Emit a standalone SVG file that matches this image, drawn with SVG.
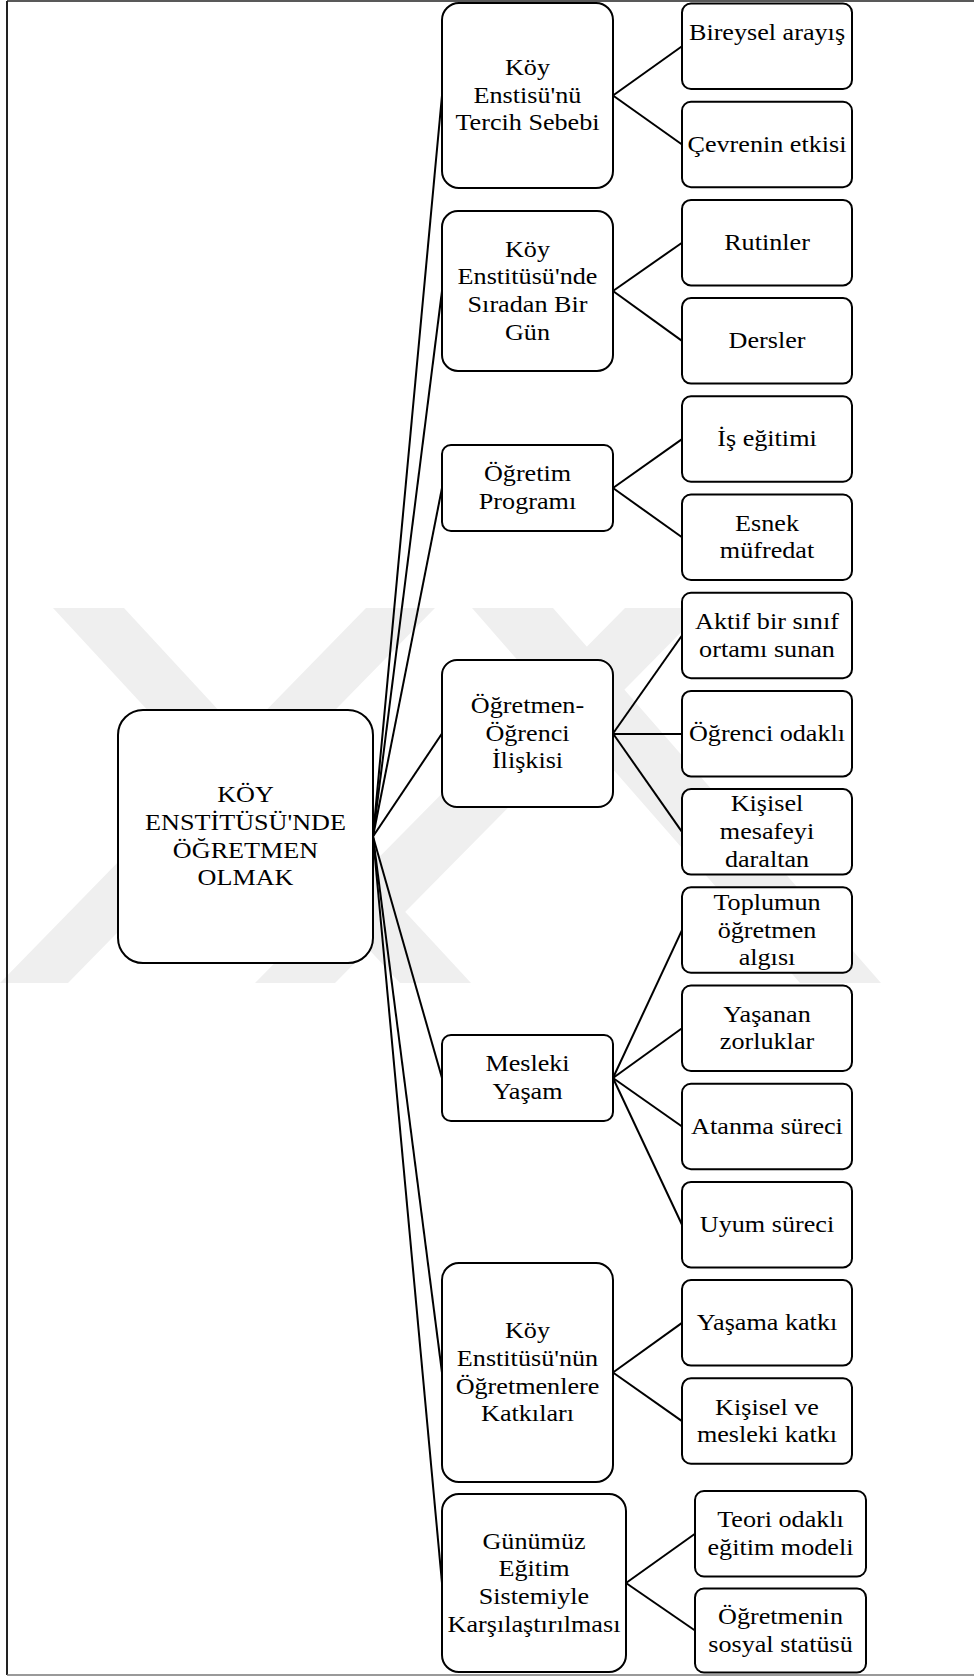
<svg xmlns="http://www.w3.org/2000/svg" width="974" height="1676" viewBox="0 0 974 1676">
<style>
.box{fill:#fff;stroke:#000;stroke-width:2}
.ln{stroke:#000;stroke-width:2;fill:none}
.t{font-family:'Liberation Serif','Times New Roman',serif;font-size:24px;fill:#000;text-anchor:middle}
.frame{stroke:#222;fill:none}
.wm{fill:#efefef;stroke:none}
</style>
<rect x="0" y="0" width="974" height="1676" fill="#fff"/>
<g id="watermark">
<polygon class="wm" points="53,608 124,608 471,983 400,983"/>
<polygon class="wm" points="366,608 435,608 68,983 0,983"/>
<polygon class="wm" points="472,608 553,608 881,983 800,983"/>
<polygon class="wm" points="625,608 705,608 335,983 255,983"/>
</g>
<g id="frame">
<line class="frame" x1="7" y1="1" x2="7" y2="1675" stroke-width="2"/>
<line class="frame" x1="7" y1="1" x2="974" y2="1" stroke-width="1.5"/>
<line x1="7" y1="1675" x2="974" y2="1675" stroke="#777" stroke-width="1.5"/>
</g>
<g id="connectors">
<line class="ln" x1="373" y1="836.5" x2="442" y2="95.5"/>
<line class="ln" x1="373" y1="836.5" x2="442" y2="291"/>
<line class="ln" x1="373" y1="836.5" x2="442" y2="488"/>
<line class="ln" x1="373" y1="836.5" x2="442" y2="733.5"/>
<line class="ln" x1="373" y1="836.5" x2="442" y2="1078"/>
<line class="ln" x1="373" y1="836.5" x2="442" y2="1372.5"/>
<line class="ln" x1="373" y1="836.5" x2="442" y2="1583"/>
<line class="ln" x1="613" y1="95.5" x2="682" y2="46.3"/>
<line class="ln" x1="613" y1="95.5" x2="682" y2="144.5"/>
<line class="ln" x1="613" y1="291" x2="682" y2="242.7"/>
<line class="ln" x1="613" y1="291" x2="682" y2="340.9"/>
<line class="ln" x1="613" y1="488" x2="682" y2="439.1"/>
<line class="ln" x1="613" y1="488" x2="682" y2="537.3"/>
<line class="ln" x1="613" y1="733.5" x2="682" y2="635.5"/>
<line class="ln" x1="613" y1="734" x2="682" y2="734"/>
<line class="ln" x1="613" y1="733.5" x2="682" y2="831.9"/>
<line class="ln" x1="613" y1="1078" x2="682" y2="930.1"/>
<line class="ln" x1="613" y1="1078" x2="682" y2="1028.3"/>
<line class="ln" x1="613" y1="1078" x2="682" y2="1126.5"/>
<line class="ln" x1="613" y1="1078" x2="682" y2="1224.7"/>
<line class="ln" x1="613" y1="1372.5" x2="682" y2="1322.9"/>
<line class="ln" x1="613" y1="1372.5" x2="682" y2="1421.1"/>
<line class="ln" x1="626" y1="1583" x2="695" y2="1533.8"/>
<line class="ln" x1="626" y1="1583" x2="695" y2="1630.5"/>
</g>
<g id="root">
<rect class="box" x="118" y="710" width="255" height="253" rx="25"/>
<text class="t" font-family="Liberation Serif" transform="matrix(1.09 0 0 1 245.5 0)"><tspan x="0" y="802.4">KÖY</tspan><tspan x="0" y="830">ENSTİTÜSÜ'NDE</tspan><tspan x="0" y="857.6">ÖĞRETMEN</tspan><tspan x="0" y="885.2">OLMAK</tspan></text>
</g>
<g id="l1-tercih">
<rect class="box" x="442" y="3" width="171" height="185" rx="17"/>
<text class="t" font-family="Liberation Serif" transform="matrix(1.09 0 0 1 527.5 0)"><tspan x="0" y="75.2">Köy</tspan><tspan x="0" y="102.8">Enstisü'nü</tspan><tspan x="0" y="130.4">Tercih Sebebi</tspan></text>
</g>
<g id="l1-gun">
<rect class="box" x="442" y="211" width="171" height="160" rx="16"/>
<text class="t" font-family="Liberation Serif" transform="matrix(1.09 0 0 1 527.5 0)"><tspan x="0" y="256.9">Köy</tspan><tspan x="0" y="284.5">Enstitüsü'nde</tspan><tspan x="0" y="312.1">Sıradan Bir</tspan><tspan x="0" y="339.7">Gün</tspan></text>
</g>
<g id="l1-program">
<rect class="box" x="442" y="445" width="171" height="86" rx="9"/>
<text class="t" font-family="Liberation Serif" transform="matrix(1.09 0 0 1 527.5 0)"><tspan x="0" y="481.5">Öğretim</tspan><tspan x="0" y="509.1">Programı</tspan></text>
</g>
<g id="l1-iliski">
<rect class="box" x="442" y="660" width="171" height="147" rx="15"/>
<text class="t" font-family="Liberation Serif" transform="matrix(1.09 0 0 1 527.5 0)"><tspan x="0" y="713.2">Öğretmen-</tspan><tspan x="0" y="740.8">Öğrenci</tspan><tspan x="0" y="768.4">İlişkisi</tspan></text>
</g>
<g id="l1-mesleki">
<rect class="box" x="442" y="1035" width="171" height="86" rx="9"/>
<text class="t" font-family="Liberation Serif" transform="matrix(1.09 0 0 1 527.5 0)"><tspan x="0" y="1071.5">Mesleki</tspan><tspan x="0" y="1099.1">Yaşam</tspan></text>
</g>
<g id="l1-katki">
<rect class="box" x="442" y="1263" width="171" height="219" rx="17"/>
<text class="t" font-family="Liberation Serif" transform="matrix(1.09 0 0 1 527.5 0)"><tspan x="0" y="1338.4">Köy</tspan><tspan x="0" y="1366">Enstitüsü'nün</tspan><tspan x="0" y="1393.6">Öğretmenlere</tspan><tspan x="0" y="1421.2">Katkıları</tspan></text>
</g>
<g id="l1-gunumuz">
<rect class="box" x="442" y="1494" width="184" height="178" rx="17"/>
<text class="t" font-family="Liberation Serif" transform="matrix(1.09 0 0 1 534 0)"><tspan x="0" y="1548.9">Günümüz</tspan><tspan x="0" y="1576.5">Eğitim</tspan><tspan x="0" y="1604.1">Sistemiyle</tspan><tspan x="0" y="1631.7">Karşılaştırılması</tspan></text>
</g>
<g id="l2-bireysel">
<rect class="box" x="682" y="3.5" width="170" height="85.5" rx="9"/>
<text class="t" font-family="Liberation Serif" transform="matrix(1.09 0 0 1 767 0)"><tspan x="0" y="39.8">Bireysel arayış</tspan></text>
</g>
<g id="l2-cevre">
<rect class="box" x="682" y="101.7" width="170" height="85.5" rx="9"/>
<text class="t" font-family="Liberation Serif" transform="matrix(1.09 0 0 1 767 0)"><tspan x="0" y="151.8">Çevrenin etkisi</tspan></text>
</g>
<g id="l2-rutin">
<rect class="box" x="682" y="199.9" width="170" height="85.5" rx="9"/>
<text class="t" font-family="Liberation Serif" transform="matrix(1.09 0 0 1 767 0)"><tspan x="0" y="250">Rutinler</tspan></text>
</g>
<g id="l2-ders">
<rect class="box" x="682" y="298.1" width="170" height="85.5" rx="9"/>
<text class="t" font-family="Liberation Serif" transform="matrix(1.09 0 0 1 767 0)"><tspan x="0" y="348.2">Dersler</tspan></text>
</g>
<g id="l2-is">
<rect class="box" x="682" y="396.3" width="170" height="85.5" rx="9"/>
<text class="t" font-family="Liberation Serif" transform="matrix(1.09 0 0 1 767 0)"><tspan x="0" y="446.4">İş eğitimi</tspan></text>
</g>
<g id="l2-esnek">
<rect class="box" x="682" y="494.5" width="170" height="85.5" rx="9"/>
<text class="t" font-family="Liberation Serif" transform="matrix(1.09 0 0 1 767 0)"><tspan x="0" y="530.8">Esnek</tspan><tspan x="0" y="558.4">müfredat</tspan></text>
</g>
<g id="l2-aktif">
<rect class="box" x="682" y="592.7" width="170" height="85.5" rx="9"/>
<text class="t" font-family="Liberation Serif" transform="matrix(1.09 0 0 1 767 0)"><tspan x="0" y="629">Aktif bir sınıf</tspan><tspan x="0" y="656.6">ortamı sunan</tspan></text>
</g>
<g id="l2-odakli">
<rect class="box" x="682" y="690.9" width="170" height="85.5" rx="9"/>
<text class="t" font-family="Liberation Serif" transform="matrix(1.09 0 0 1 767 0)"><tspan x="0" y="741">Öğrenci odaklı</tspan></text>
</g>
<g id="l2-mesafe">
<rect class="box" x="682" y="789.1" width="170" height="85.5" rx="9"/>
<text class="t" font-family="Liberation Serif" transform="matrix(1.09 0 0 1 767 0)"><tspan x="0" y="811.4">Kişisel</tspan><tspan x="0" y="839">mesafeyi</tspan><tspan x="0" y="866.6">daraltan</tspan></text>
</g>
<g id="l2-toplum">
<rect class="box" x="682" y="887.3" width="170" height="85.5" rx="9"/>
<text class="t" font-family="Liberation Serif" transform="matrix(1.09 0 0 1 767 0)"><tspan x="0" y="910">Toplumun</tspan><tspan x="0" y="937.6">öğretmen</tspan><tspan x="0" y="965.2">algısı</tspan></text>
</g>
<g id="l2-zorluk">
<rect class="box" x="682" y="985.5" width="170" height="85.5" rx="9"/>
<text class="t" font-family="Liberation Serif" transform="matrix(1.09 0 0 1 767 0)"><tspan x="0" y="1021.8">Yaşanan</tspan><tspan x="0" y="1049.4">zorluklar</tspan></text>
</g>
<g id="l2-atanma">
<rect class="box" x="682" y="1083.7" width="170" height="85.5" rx="9"/>
<text class="t" font-family="Liberation Serif" transform="matrix(1.09 0 0 1 767 0)"><tspan x="0" y="1133.8">Atanma süreci</tspan></text>
</g>
<g id="l2-uyum">
<rect class="box" x="682" y="1181.9" width="170" height="85.5" rx="9"/>
<text class="t" font-family="Liberation Serif" transform="matrix(1.09 0 0 1 767 0)"><tspan x="0" y="1232">Uyum süreci</tspan></text>
</g>
<g id="l2-yasama">
<rect class="box" x="682" y="1280.1" width="170" height="85.5" rx="9"/>
<text class="t" font-family="Liberation Serif" transform="matrix(1.09 0 0 1 767 0)"><tspan x="0" y="1330.2">Yaşama katkı</tspan></text>
</g>
<g id="l2-kisisel">
<rect class="box" x="682" y="1378.3" width="170" height="85.5" rx="9"/>
<text class="t" font-family="Liberation Serif" transform="matrix(1.09 0 0 1 767 0)"><tspan x="0" y="1414.6">Kişisel ve</tspan><tspan x="0" y="1442.2">mesleki katkı</tspan></text>
</g>
<g id="l2-teori">
<rect class="box" x="695" y="1491" width="171" height="85.5" rx="9"/>
<text class="t" font-family="Liberation Serif" transform="matrix(1.09 0 0 1 780.5 0)"><tspan x="0" y="1527.3">Teori odaklı</tspan><tspan x="0" y="1554.9">eğitim modeli</tspan></text>
</g>
<g id="l2-statu">
<rect class="box" x="695" y="1588.5" width="171" height="84" rx="9"/>
<text class="t" font-family="Liberation Serif" transform="matrix(1.09 0 0 1 780.5 0)"><tspan x="0" y="1624">Öğretmenin</tspan><tspan x="0" y="1651.6">sosyal statüsü</tspan></text>
</g>
</svg>
